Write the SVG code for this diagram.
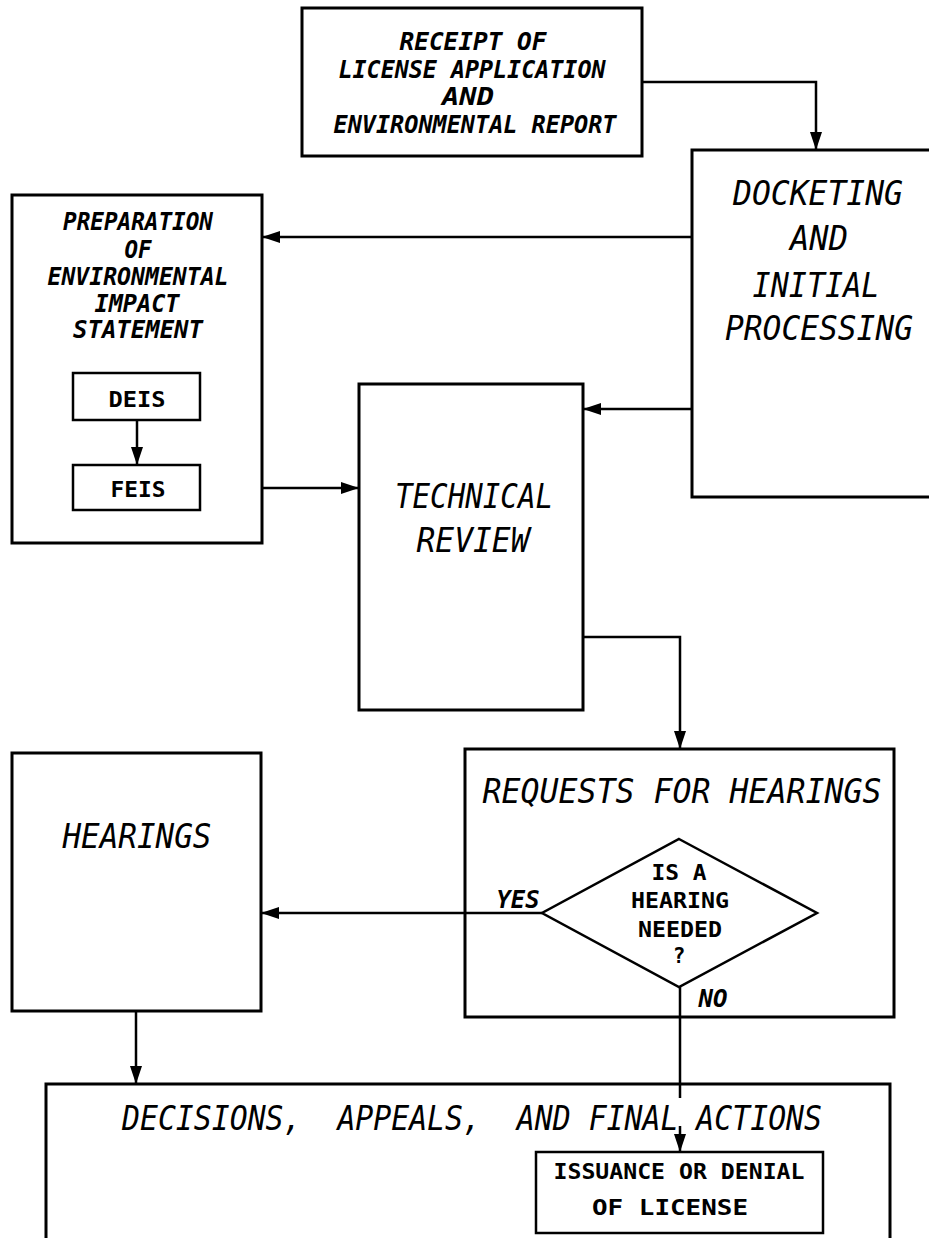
<svg xmlns="http://www.w3.org/2000/svg" width="929" height="1238" viewBox="0 0 929 1238">
<style>
.box{fill:#fff;stroke:#000;stroke-width:3}
.sub{fill:#fff;stroke:#000;stroke-width:2.5}
.con{fill:none;stroke:#000;stroke-width:2.5}
text{font-family:"DejaVu Sans Mono","Liberation Mono",monospace;fill:#000;text-anchor:middle}
.big{font-style:italic;font-size:34px}
.bi{font-style:italic;font-weight:bold;font-size:24px}
.b{font-weight:bold;font-size:21px}
</style>
<defs>
<marker id="arr" markerUnits="userSpaceOnUse" markerWidth="18" markerHeight="12" refX="18" refY="6" orient="auto">
<path d="M0,0 L18,6 L0,12 z" fill="#000"/>
</marker>
</defs>
<rect width="929" height="1238" fill="#fff"/>
<g id="receipt">
<rect class="box" x="302" y="8" width="340" height="148"/>
<text class="bi" x="473" y="50" textLength="147" lengthAdjust="spacingAndGlyphs">RECEIPT OF</text>
<text class="bi" x="472" y="78" textLength="267" lengthAdjust="spacingAndGlyphs">LICENSE APPLICATION</text>
<text class="bi" x="468" y="105" textLength="52" lengthAdjust="spacingAndGlyphs">AND</text>
<text class="bi" x="475" y="133" textLength="283" lengthAdjust="spacingAndGlyphs">ENVIRONMENTAL REPORT</text>
</g>
<g id="docketing">
<rect class="box" x="692" y="150" width="250" height="347"/>
<text class="big" x="818" y="205" textLength="170" lengthAdjust="spacingAndGlyphs">DOCKETING</text>
<text class="big" x="819" y="250" textLength="58" lengthAdjust="spacingAndGlyphs">AND</text>
<text class="big" x="816" y="297" textLength="127" lengthAdjust="spacingAndGlyphs">INITIAL</text>
<text class="big" x="819" y="340" textLength="188" lengthAdjust="spacingAndGlyphs">PROCESSING</text>
</g>
<g id="preparation">
<rect class="box" x="12" y="195" width="250" height="348"/>
<text class="bi" x="138" y="230" textLength="150" lengthAdjust="spacingAndGlyphs">PREPARATION</text>
<text class="bi" x="138" y="258" textLength="27" lengthAdjust="spacingAndGlyphs">OF</text>
<text class="bi" x="138" y="285" textLength="181" lengthAdjust="spacingAndGlyphs">ENVIRONMENTAL</text>
<text class="bi" x="137" y="312" textLength="85" lengthAdjust="spacingAndGlyphs">IMPACT</text>
<text class="bi" x="138" y="338" textLength="130" lengthAdjust="spacingAndGlyphs">STATEMENT</text>
</g>
<g id="deis">
<rect class="sub" x="73" y="373" width="127" height="47"/>
<text class="b" x="137" y="407" textLength="57" lengthAdjust="spacingAndGlyphs">DEIS</text>
</g>
<g id="feis">
<rect class="sub" x="73" y="465" width="127" height="45"/>
<text class="b" x="138" y="497" textLength="55" lengthAdjust="spacingAndGlyphs">FEIS</text>
</g>
<g id="technical-review">
<rect class="box" x="359" y="384" width="224" height="326"/>
<text class="big" x="474" y="508" textLength="158" lengthAdjust="spacingAndGlyphs">TECHNICAL</text>
<text class="big" x="473" y="552" textLength="113" lengthAdjust="spacingAndGlyphs">REVIEW</text>
</g>
<g id="hearings">
<rect class="box" x="12" y="753" width="249" height="258"/>
<text class="big" x="137" y="848" textLength="149" lengthAdjust="spacingAndGlyphs">HEARINGS</text>
</g>
<g id="requests">
<rect class="box" x="465" y="749" width="429" height="268"/>
<text class="big" x="682" y="803" textLength="399" lengthAdjust="spacingAndGlyphs">REQUESTS FOR HEARINGS</text>
</g>
<g id="decision">
<polygon points="679,839 817,913 679,987 542,913" fill="#fff" stroke="#000" stroke-width="2.5"/>
<text class="b" x="679" y="880" textLength="55" lengthAdjust="spacingAndGlyphs">IS A</text>
<text class="b" x="680" y="908" textLength="98" lengthAdjust="spacingAndGlyphs">HEARING</text>
<text class="b" x="680" y="937" textLength="84" lengthAdjust="spacingAndGlyphs">NEEDED</text>
<text class="b" x="679" y="963">?</text>
</g>
<g id="decisions-appeals">
<rect class="box" x="46" y="1084" width="844" height="170"/>
<text class="big" x="472" y="1130" textLength="700" lengthAdjust="spacingAndGlyphs" xml:space="preserve">DECISIONS,  APPEALS,  AND FINAL ACTIONS</text>
</g>
<g id="issuance">
<rect class="sub" x="536" y="1152" width="287" height="81"/>
<text class="b" x="679" y="1179" textLength="251" lengthAdjust="spacingAndGlyphs">ISSUANCE OR DENIAL</text>
<text class="b" x="670" y="1215" textLength="156" lengthAdjust="spacingAndGlyphs">OF LICENSE</text>
</g>
<g id="connectors">
<path class="con" d="M642,82 H816 V150" marker-end="url(#arr)"/>
<path class="con" d="M692,237 H262" marker-end="url(#arr)"/>
<path class="con" d="M692,409 H583" marker-end="url(#arr)"/>
<path class="con" d="M262,488 H359" marker-end="url(#arr)"/>
<path class="con" d="M137,420 V465" marker-end="url(#arr)"/>
<path class="con" d="M583,637 H680 V749" marker-end="url(#arr)"/>
<path class="con" d="M542,913 H261" marker-end="url(#arr)"/>
<path class="con" d="M680,987 V1098 M680,1126 V1152" marker-end="url(#arr)"/>
<path class="con" d="M136,1011 V1084" marker-end="url(#arr)"/>
<text class="bi" x="518" y="908" textLength="43" lengthAdjust="spacingAndGlyphs">YES</text>
<text class="bi" x="713" y="1007" textLength="29" lengthAdjust="spacingAndGlyphs">NO</text>
</g>
</svg>
